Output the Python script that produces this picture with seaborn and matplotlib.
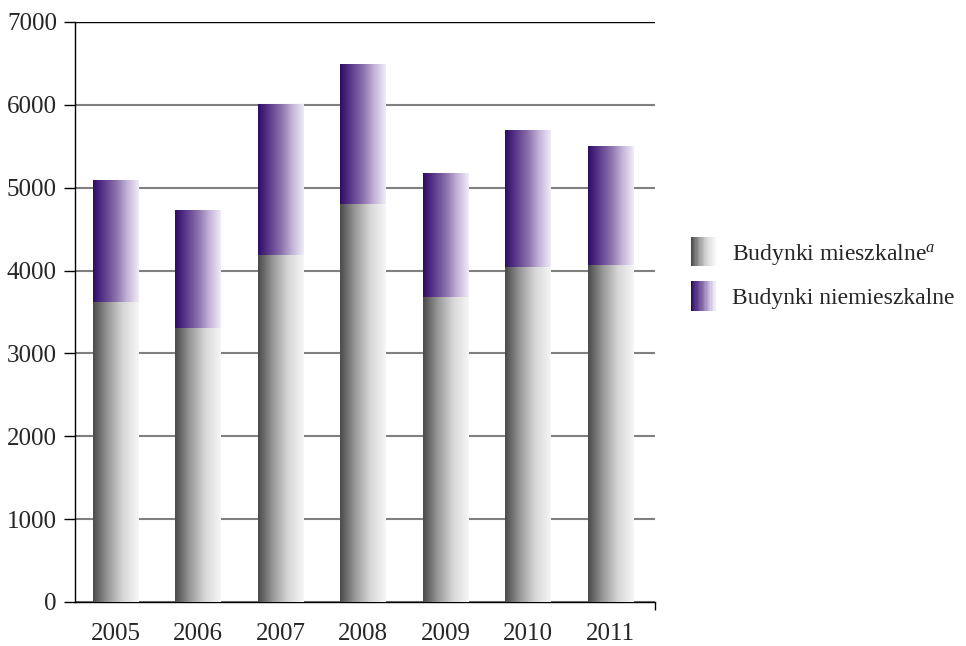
import numpy as np
import pandas as pd
import matplotlib
matplotlib.use('Agg')
import matplotlib.pyplot as plt
import seaborn as sns
from matplotlib.colors import LinearSegmentedColormap
from matplotlib.legend_handler import HandlerBase
from matplotlib.patches import Rectangle

# values
years = ['2005', '2006', '2007', '2008', '2009', '2010', '2011']
mieszkalne = [3620, 3295, 4176, 4803, 3681, 4043, 4067]
niemieszkalne = [1461, 1436, 1834, 1678, 1496, 1653, 1436]
labels = ['Budynki mieszkalne$^{a}$', 'Budynki niemieszkalne']

gray_cmap = LinearSegmentedColormap.from_list('g', ['#4a4a4a', '#9a9a9a', '#d8d8d8', '#f6f6f6'])
purple_cmap = LinearSegmentedColormap.from_list('p', ['#2f0b68', '#5e3c8c', '#8a70aa', '#c4b4d8', '#f0ecf6'])

sns.set_style('white')
plt.rcParams['font.family'] = ['Liberation Serif', 'DejaVu Serif']
plt.rcParams['mathtext.fontset'] = 'custom'
plt.rcParams['mathtext.rm'] = 'Liberation Serif'
plt.rcParams['mathtext.it'] = 'Liberation Serif:italic'

df = pd.DataFrame({'rok': years, 'm': mieszkalne, 'n': niemieszkalne})
df['total'] = df['m'] + df['n']

fig = plt.figure(figsize=(9.66, 6.46), dpi=100)
ax = fig.add_axes([75 / 966, 44 / 646, 580 / 966, 580 / 646])

sns.barplot(data=df, x='rok', y='total', color='white', width=0.55, ax=ax, zorder=2)
sns.barplot(data=df, x='rok', y='m', color='white', width=0.55, ax=ax, zorder=2)

grad = np.linspace(0, 1, 256).reshape(1, -1)
n = len(years)
for i, p in enumerate(ax.patches):
    cmap = purple_cmap if i < n else gray_cmap
    x0, y0, w, h = p.get_x(), p.get_y(), p.get_width(), p.get_height()
    if i < n:
        # top part only: from residential top to total
        y0 = mieszkalne[i]
        h = df['total'][i] - mieszkalne[i]
    ax.imshow(grad, cmap=cmap, aspect='auto', extent=(x0, x0 + w, y0, y0 + h),
              zorder=3, interpolation='bilinear')
    p.set_visible(False)

ax.set_xlim(-0.49, 6.54)
ax.set_ylim(0, 7000)
ax.set_yticks(range(0, 7001, 1000))
ax.yaxis.grid(True, color='#808080', lw=1.5, zorder=0)
ax.set_axisbelow(True)
ax.axhline(7000, color='black', lw=1, zorder=1)
for s in ['top', 'right']:
    ax.spines[s].set_visible(False)
ax.spines['left'].set_color('black')
ax.spines['bottom'].set_color('black')
ax.spines['left'].set_linewidth(1)
ax.spines['bottom'].set_linewidth(1)
ax.tick_params(axis='y', direction='out', length=8, width=1, color='black', labelsize=18, pad=5, left=True)
ax.tick_params(axis='x', length=0, labelsize=18, pad=15)
ax.set_xticks([6.54], minor=True)
ax.tick_params(axis='x', which='minor', direction='out', length=6, width=1, color='black', bottom=True)
ax.set_xlabel('')
ax.set_ylabel('')


class GradientHandler(HandlerBase):
    def __init__(self, cmap):
        super().__init__()
        self.cmap = cmap

    def create_artists(self, legend, orig_handle, xdescent, ydescent, width, height, fontsize, trans):
        k = 20
        arts = []
        for j in range(k):
            r = Rectangle((-xdescent + width * j / k, -ydescent - 3), width / k + 0.3, height + 6,
                          facecolor=self.cmap(j / (k - 1)), edgecolor='none', transform=trans)
            arts.append(r)
        return arts


h1 = Rectangle((0, 0), 1, 1)
h2 = Rectangle((0, 0), 1, 1)
fig.legend([h1, h2], labels, loc='center left', bbox_to_anchor=(674 / 966, 1 - 275 / 646),
           frameon=False, fontsize=17, handlelength=1.05, handleheight=1.0, handletextpad=0.7,
           labelspacing=0.8, borderpad=0.2,
           handler_map={h1: GradientHandler(gray_cmap), h2: GradientHandler(purple_cmap)})

fig.savefig('out.png', dpi=100)
